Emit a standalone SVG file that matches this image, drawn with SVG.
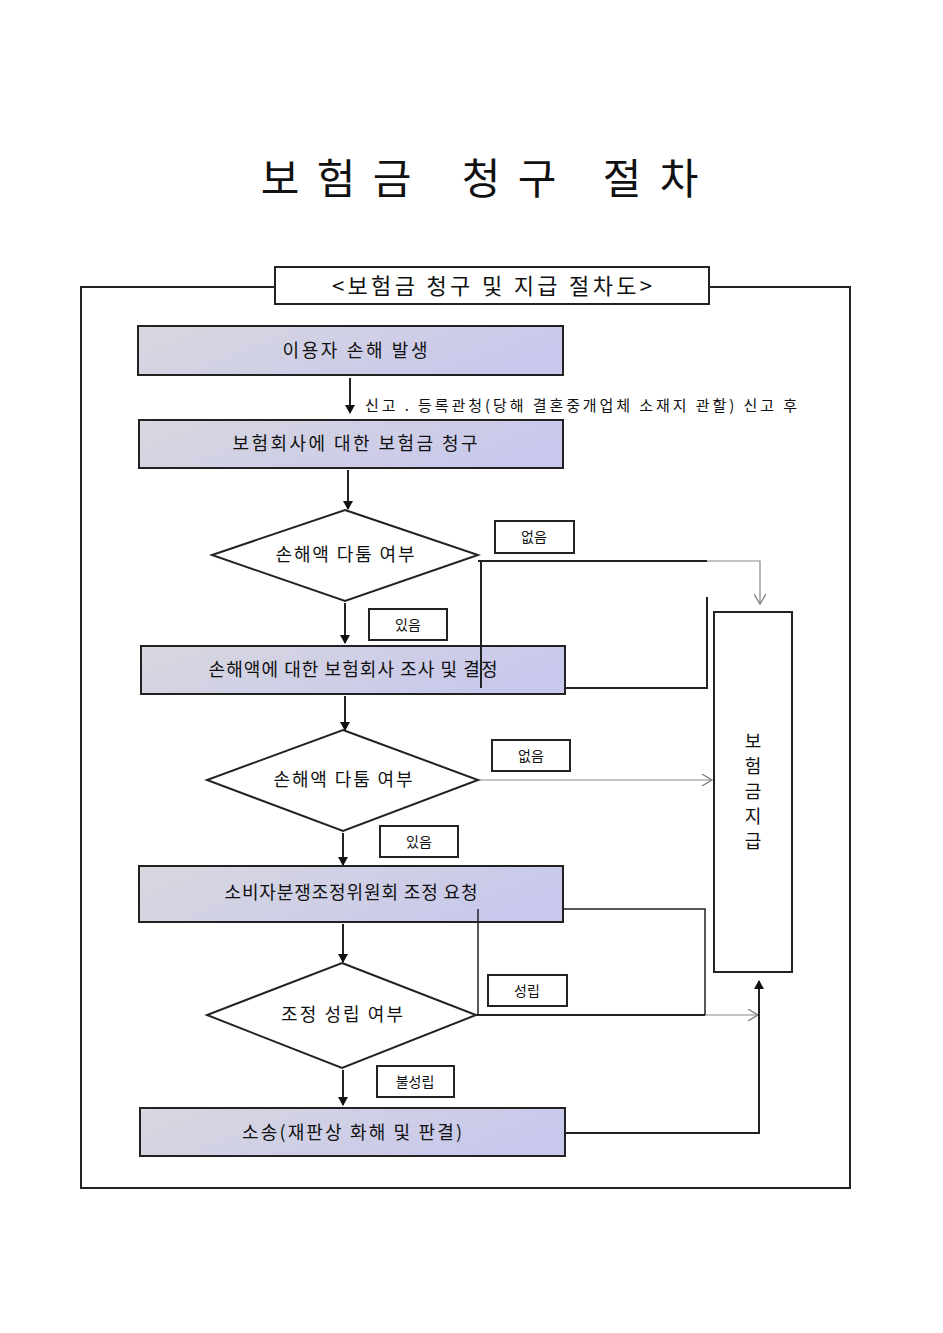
<svg xmlns="http://www.w3.org/2000/svg" width="943" height="1333" viewBox="0 0 943 1333">
<style>
text{font-family:"Noto Sans CJK KR","Liberation Sans",sans-serif;fill:#111}
.box{fill:url(#g);stroke:#222;stroke-width:2}
.lbl{fill:#fff;stroke:#222;stroke-width:2}
.dia{fill:#fff;stroke:#222;stroke-width:2}
.ln{fill:none;stroke:#222;stroke-width:2}
.gl{fill:none;stroke:#888;stroke-width:1.2}
.t{font-size:18px;text-anchor:middle}
.s{font-size:14px;text-anchor:middle}
.h{font-size:42px;text-anchor:middle}
</style>
<defs>
<linearGradient id="g" x1="0" y1="0" x2="1" y2="0.3"><stop offset="0" stop-color="#d8d8df"/><stop offset="1" stop-color="#c8c8ec"/></linearGradient>
<marker id="fa" markerWidth="10" markerHeight="10" refX="8" refY="5" orient="auto" markerUnits="userSpaceOnUse"><path d="M0,0L9,5L0,10z" fill="#111"/></marker>
<marker id="oa" markerWidth="12" markerHeight="12" refX="10" refY="6" orient="auto" markerUnits="userSpaceOnUse"><path d="M0,0L10,6L0,12" fill="none" stroke="#777" stroke-width="1.2"/></marker>
</defs>
<rect width="943" height="1333" fill="#fff"/>
<g id="title"><text x="280" y="194" class="h">보</text><text x="336" y="194" class="h">험</text><text x="392" y="194" class="h">금</text><text x="481" y="194" class="h">청</text><text x="537" y="194" class="h">구</text><text x="622" y="194" class="h">절</text><text x="679" y="194" class="h">차</text></g>
<rect x="81" y="287" width="769" height="901" class="ln"/>
<g id="header"><rect x="275" y="267" width="434" height="37" class="lbl"/><text x="492" y="294" style="font-size:22px;text-anchor:middle" textLength="320" lengthAdjust="spacing">&lt;보험금 청구 및 지급 절차도&gt;</text></g>
<g id="connectors">
<line x1="350" y1="378" x2="350" y2="413" class="ln" marker-end="url(#fa)"/>
<text x="365" y="411" style="font-size:15px" textLength="432" lengthAdjust="spacing">신고 . 등록관청(당해 결혼중개업체 소재지 관할) 신고 후</text>
<line x1="348" y1="470" x2="348" y2="509" class="ln" marker-end="url(#fa)"/>
<path d="M478,561H707" class="ln"/><path d="M707,561H760V604" class="gl" marker-end="url(#oa)"/>
<path d="M481,561V688H707V597" class="ln"/>
<line x1="345" y1="603" x2="345" y2="643" class="ln" marker-end="url(#fa)"/>
<line x1="345" y1="696" x2="345" y2="730" class="ln" marker-end="url(#fa)"/>
<path d="M478,780H712" class="gl" marker-end="url(#oa)"/>
<line x1="343" y1="833" x2="343" y2="865" class="ln" marker-end="url(#fa)"/>
<line x1="343" y1="924" x2="343" y2="962" class="ln" marker-end="url(#fa)"/>
<path d="M476,1015H705" class="ln"/><path d="M705,1015H758" class="gl" marker-end="url(#oa)"/>
<path d="M478,1015V909H705V1015" class="ln" style="stroke-width:1.5"/>
<line x1="343" y1="1070" x2="343" y2="1105" class="ln" marker-end="url(#fa)"/>
<path d="M565,1133H759V981" class="ln" marker-end="url(#fa)"/>
</g>
<g id="n1"><rect x="138" y="326" width="425" height="49" class="box"/><text x="355" y="357" class="t" textLength="145" lengthAdjust="spacing">이용자 손해 발생</text></g>
<g id="n2"><rect x="139" y="420" width="424" height="48" class="box"/><text x="355" y="450" class="t" textLength="245" lengthAdjust="spacing">보험회사에 대한 보험금 청구</text></g>
<g id="d1"><polygon points="345,510 478,555 345,601 212,555" class="dia"/><text x="345" y="561" class="t" textLength="139" lengthAdjust="spacing">손해액 다툼 여부</text></g>
<g id="l1"><rect x="495" y="521" width="79" height="32" class="lbl"/><text x="534" y="542" class="s">없음</text></g>
<g id="l2"><rect x="369" y="609" width="78" height="31" class="lbl"/><text x="408" y="630" class="s">있음</text></g>
<g id="n3"><rect x="141" y="646" width="424" height="48" class="box"/><text x="353" y="676" class="t" textLength="289" lengthAdjust="spacing">손해액에 대한 보험회사 조사 및 결정</text></g>
<path d="M481,646V688" class="ln"/>
<g id="d2"><polygon points="343,730 478,780 343,831 207,780" class="dia"/><text x="343" y="786" class="t" textLength="139" lengthAdjust="spacing">손해액 다툼 여부</text></g>
<g id="l3"><rect x="492" y="740" width="78" height="31" class="lbl"/><text x="531" y="761" class="s">없음</text></g>
<g id="l4"><rect x="380" y="826" width="78" height="31" class="lbl"/><text x="419" y="847" class="s">있음</text></g>
<g id="pay"><rect x="714" y="612" width="78" height="360" class="lbl"/>
<text x="753" y="748" class="t">보</text><text x="753" y="773" class="t">험</text><text x="753" y="798" class="t">금</text><text x="753" y="823" class="t">지</text><text x="753" y="848" class="t">급</text></g>
<g id="n4"><rect x="139" y="866" width="424" height="56" class="box"/><text x="351" y="899" class="t" textLength="253" lengthAdjust="spacing">소비자분쟁조정위원회 조정 요청</text></g>
<path d="M478,909V922" class="ln" style="stroke-width:1.5"/>
<g id="d3"><polygon points="342,963 476,1015 342,1068 207,1015" class="dia"/><text x="342" y="1021" class="t" textLength="122" lengthAdjust="spacing">조정 성립 여부</text></g>
<g id="l5"><rect x="488" y="975" width="79" height="31" class="lbl"/><text x="527" y="996" class="s">성립</text></g>
<g id="l6"><rect x="377" y="1066" width="77" height="31" class="lbl"/><text x="415" y="1087" class="s">불성립</text></g>
<g id="n5"><rect x="140" y="1108" width="425" height="48" class="box"/><text x="352" y="1139" class="t" textLength="220" lengthAdjust="spacing">소송(재판상 화해 및 판결)</text></g>
</svg>
